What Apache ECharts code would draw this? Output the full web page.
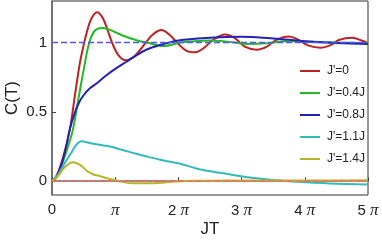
<!DOCTYPE html>
<html>
<head>
<meta charset="utf-8">
<script src="https://cdn.jsdelivr.net/npm/echarts@6/dist/echarts.min.js"></script>
<style>html,body{margin:0;padding:0;background:#fff;}#c{width:382px;height:245px;}</style>
</head>
<body>
<div id="c"></div>
<script>
// x values are in units of pi (JT / pi)
const seriesNames = ["J'=0", "J'=0.4J", "J'=0.8J", "J'=1.1J", "J'=1.4J"];
const seriesColors = ['#c02222', '#22bb22', '#2222bb', '#33bbbb', '#b5b52a'];

const redX = [0,0.07,0.18,0.28,0.36,0.44,0.51,0.56,0.62,0.71,0.8,0.88,0.95,1.05,1.17,1.3,1.4,1.5,1.6,1.73,1.85,2.0,2.13,2.27,2.4,2.55,2.74,2.9,3.05,3.24,3.4,3.55,3.75,3.9,4.05,4.25,4.4,4.55,4.75,4.9,5.0];
const redY = [0,0.036,0.18,0.37,0.61,0.85,1.0,1.09,1.17,1.218,1.18,1.09,1.0,0.91,0.872,0.9,0.95,1.01,1.06,1.09,1.06,0.99,0.94,0.93,0.96,1.02,1.058,1.03,0.97,0.948,0.97,1.02,1.044,1.02,0.98,0.963,0.98,1.02,1.034,1.015,0.996];

const greenX = [0,0.08,0.18,0.26,0.33,0.42,0.5,0.59,0.68,0.79,0.9,1.0,1.18,1.35,1.5,1.76,2.03,2.2,2.5,2.8,3.08,3.4,3.7,4.0,4.5,5.0];
const greenY = [0,0.03,0.15,0.26,0.37,0.6,0.8,1.0,1.087,1.106,1.095,1.075,1.04,1.015,1.0,0.975,1.0,1.008,1.015,1.005,0.99,0.995,1.01,1.008,1.0,0.996];

const blueX = [0,0.08,0.15,0.22,0.28,0.35,0.42,0.5,0.6,0.72,0.85,1.0,1.17,1.34,1.5,1.66,2.0,2.5,3.0,3.5,4.0,4.5,5.0];
const blueY = [0,0.04,0.12,0.24,0.37,0.48,0.56,0.62,0.67,0.71,0.76,0.81,0.86,0.91,0.95,0.975,1.015,1.035,1.042,1.03,1.01,0.997,0.99];

const cyanX = [0,0.1,0.2,0.3,0.38,0.47,0.6,0.75,0.92,1.1,1.29,1.5,1.71,2.03,2.3,2.66,2.82,3.0,3.2,3.5,3.88,4.4,5.0];
const cyanY = [0,0.05,0.13,0.2,0.26,0.287,0.275,0.262,0.25,0.226,0.203,0.178,0.155,0.125,0.09,0.06,0.048,0.035,0.022,0.008,-0.005,-0.017,-0.024];

const yellowX = [0,0.1,0.2,0.33,0.45,0.55,0.655,0.76,0.88,0.97,1.1,1.29,1.5,1.82,2.03,2.35,2.8,3.5,4.0,5.0];
const yellowY = [0,0.04,0.1,0.136,0.115,0.075,0.048,0.036,0.02,0.01,-0.005,-0.016,-0.016,-0.008,0.0,0.003,0.005,0.005,0.004,0.006];

const xTicks = [0,1,2,3,4,5];
const yTicks = [0,0.5,1];
const refLevels = [0, 1];

function pairs(xs, ys){ return xs.map((x,i)=>[x, ys[i]]); }

const curveData = [pairs(redX,redY), pairs(greenX,greenY), pairs(blueX,blueY), pairs(cyanX,cyanY), pairs(yellowX,yellowY)];

const chart = echarts.init(document.getElementById('c'), null, {renderer:'canvas'});
const font = 'Liberation Sans, Arial, sans-serif';

const series = curveData.map((d,i)=>({
  name: seriesNames[i], type:'line', data:d, smooth:0.35, showSymbol:false,
  lineStyle:{color:seriesColors[i], width:2}, itemStyle:{color:seriesColors[i]}, z:2
}));
series.push({
  name:'ref0', type:'line', data:[[0,refLevels[0]],[5,refLevels[0]]], showSymbol:false, silent:true,
  lineStyle:{color:'#ff6666', width:1.5, type:[6,3]}, z:3
});
series.push({
  name:'ref1', type:'line', data:[[0,refLevels[1]],[5,refLevels[1]]], showSymbol:false, silent:true,
  lineStyle:{color:'#5555ff', width:1.5, type:[6,3]}, z:3
});

chart.setOption({
  animation:false,
  backgroundColor:'#fff',
  grid:{left:52, right:14, top:1, bottom:50, show:true, borderColor:'#333', borderWidth:1,
    containLabel:false, outerBoundsMode:'none'},
  legend:{
    data:seriesNames, orient:'vertical', left:295, top:59, icon:'rect',
    itemWidth:20, itemHeight:2, itemGap:8,
    textStyle:{fontFamily:font, fontSize:12, color:'#222', lineHeight:14, padding:[0,0,0,2]}
  },
  xAxis:{
    type:'value', min:0, max:5, interval:1,
    name:'JT', nameLocation:'middle', nameGap:26, nameMoveOverlap:false,
    nameTextStyle:{fontFamily:font, fontSize:17, color:'#222'},
    axisLine:{show:true, lineStyle:{color:'#666', width:1.5}},
    axisTick:{show:true, inside:true, length:4, lineStyle:{color:'#444'}},
    splitLine:{show:false},
    axisLabel:{
      margin:7, color:'#222', fontFamily:font, fontSize:15,
      formatter:function(v){ if(v===0) return '0'; if(v===1) return '{p|π}'; return v+' {p|π}'; },
      rich:{p:{fontFamily:'Liberation Serif, serif', fontStyle:'italic', fontSize:17, color:'#222'}}
    }
  },
  yAxis:{
    type:'value', min:-0.1, max:1.3,
    name:'C(T)', nameLocation:'middle', nameGap:31, nameMoveOverlap:false,
    nameTextStyle:{fontFamily:font, fontSize:17, color:'#222'},
    axisLine:{show:true, lineStyle:{color:'#666', width:1.5}},
    axisTick:{show:true, inside:true, length:4, customValues:yTicks, lineStyle:{color:'#444'}},
    splitLine:{show:false},
    axisLabel:{margin:5, color:'#222', fontFamily:font, fontSize:15, customValues:yTicks,
      formatter:function(v){ return String(v); }}
  },
  series:series
});
</script>
</body>
</html>
